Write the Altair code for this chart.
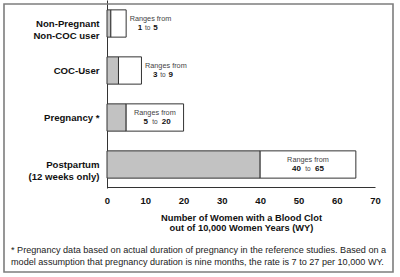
import altair as alt
import pandas as pd

categories = ["Non-Pregnant\nNon-COC user", "COC-User", "Pregnancy *", "Postpartum\n(12 weeks only)"]
low = [1, 3, 5, 40]
high = [5, 9, 20, 65]
x_ticks = [0, 10, 20, 30, 40, 50, 60, 70]
axis_title = ["Number of Women with a  Blood Clot", "out of  10,000 Women Years (WY)"]
footnote = [
    "* Pregnancy data based on actual duration of pregnancy in the reference studies. Based on a",
    "model assumption that pregnancy duration is nine months, the rate is 7 to 27 per 10,000 WY.",
]

FONT = "Liberation Sans"

df = pd.DataFrame({"cat": categories, "lo": low, "hi": high})
df["zero"] = 0
df["mid"] = (df["lo"] + df["hi"]) / 2

xscale = alt.Scale(domain=[0, 70], nice=False)
yscale = alt.Scale(range=[-4, 184], paddingInner=0.42, paddingOuter=0.21)

xaxis = alt.Axis(values=x_ticks, ticks=False, grid=False, labelFont=FONT, labelFontSize=9.5,
                 labelFontWeight="bold", labelColor="#111", labelPadding=8, domainColor="#333",
                 labelOverlap=False, labelFlush=False,
                 title=axis_title, titleFont=FONT, titleFontSize=9.3, titleFontWeight="bold",
                 titleColor="#111", titleLineHeight=10, titlePadding=9)
yaxis = alt.Axis(labelExpr="split(datum.label, '\\n')", labelFont=FONT, labelFontSize=9.6,
                 labelFontWeight="bold", labelColor="#111", labelLineHeight=12,
                 labelPadding=8, ticks=False, domainColor="#333", labelLimit=200, title=None)


def X(field):
    return alt.X(field, scale=xscale, axis=xaxis)


yenc = alt.Y("cat:N", sort=categories, scale=yscale, axis=yaxis)

base = alt.Chart(df)

gray = base.mark_bar(color="#c2c2c2", stroke="#333", strokeWidth=1).encode(
    x=X("zero:Q"), x2="lo:Q", y=yenc,
)
white = base.mark_bar(color="white", stroke="#333", strokeWidth=1).encode(
    x=X("lo:Q"), x2="hi:Q", y=yenc,
)

wide = base.transform_filter("datum.hi - datum.lo >= 10")
narrow = base.transform_filter("datum.hi - datum.lo < 10")

small_txt = dict(font=FONT, fontSize=7.3, color="#444", baseline="middle")
num_txt = dict(font=FONT, fontSize=8, fontWeight="bold", color="#111", baseline="middle")
to_txt = dict(font=FONT, fontSize=6.5, color="#444", baseline="middle")

layers = [gray, white]
# wide: centered inside white bar
layers += [
    wide.mark_text(align="center", dy=-5, **small_txt).encode(x=X("mid:Q"), y=yenc, text=alt.value("Ranges from")),
    wide.mark_text(align="right", dx=-7, dy=4, **num_txt).encode(x=X("mid:Q"), y=yenc, text="lo:Q"),
    wide.mark_text(align="center", dy=4, **to_txt).encode(x=X("mid:Q"), y=yenc, text=alt.value("to")),
    wide.mark_text(align="left", dx=7, dy=4, **num_txt).encode(x=X("mid:Q"), y=yenc, text="hi:Q"),
]
# narrow: to the right of bar
layers += [
    narrow.mark_text(align="left", dx=3.5, dy=-5, **small_txt).encode(x=X("hi:Q"), y=yenc, text=alt.value("Ranges from")),
    narrow.mark_text(align="right", dx=16, dy=4, **num_txt).encode(x=X("hi:Q"), y=yenc, text="lo:Q"),
    narrow.mark_text(align="center", dx=21.5, dy=4, **to_txt).encode(x=X("hi:Q"), y=yenc, text=alt.value("to")),
    narrow.mark_text(align="left", dx=27, dy=4, **num_txt).encode(x=X("hi:Q"), y=yenc, text="hi:Q"),
]

one = alt.Chart(pd.DataFrame({"a": [0]}))
border = one.mark_rect(fillOpacity=0, stroke="#7d7d7d", strokeWidth=1.6).encode(
    x=alt.value(-103), x2=alt.value(286), y=alt.value(0), y2=alt.value(268)
)
notes = [
    one.mark_text(align="left", baseline="middle", font=FONT, fontSize=9.1, color="#222").encode(
        x=alt.value(-96), y=alt.value(246 + 12 * i), text=alt.value(line))
    for i, line in enumerate(footnote)
]

chart = alt.layer(border, *layers, *notes).properties(
    width=268, height=183,
    autosize=alt.AutoSizeParams(type="none"),
    padding={"left": 107, "top": 4, "right": 25, "bottom": 90},
    background="white",
).configure_view(stroke=None)

chart.save("out.html", embed_options={"renderer": "svg", "actions": False})
